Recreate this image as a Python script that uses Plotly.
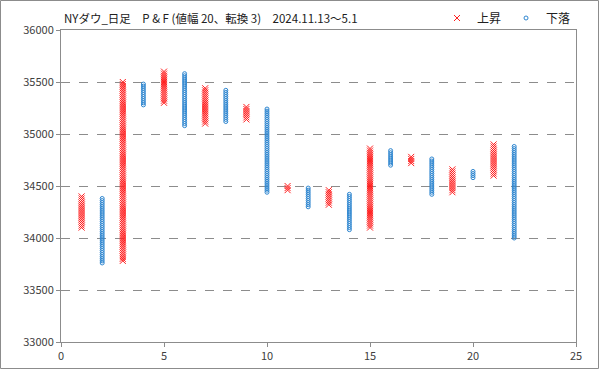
import numpy as np
import plotly.graph_objects as go

# Point & Figure columns: column index, type, low box, high box
col_x = [1, 2, 3, 4, 5, 6, 7, 8, 9, 10, 11, 12, 13, 14, 15, 16, 17, 18, 19, 20, 21, 22]
col_type = ["X", "O", "X", "O", "X", "O", "X", "O", "X", "O", "X",
            "O", "X", "O", "X", "O", "X", "O", "X", "O", "X", "O"]
col_low = [34100, 33760, 33780, 35280, 35300, 35080, 35100, 35120, 35140, 34440, 34460,
           34300, 34320, 34080, 34100, 34700, 34720, 34420, 34440, 34580, 34600, 34000]
col_high = [34400, 34380, 35500, 35480, 35600, 35580, 35440, 35420, 35260, 35240, 34500,
            34480, 34460, 34420, 34860, 34840, 34780, 34760, 34660, 34640, 34900, 34880]
box = 20

title_text = "NYダウ_日足　P & F (値幅 20、転換 3)　2024.11.13～5.1"

ux, uy, dx, dy = [], [], [], []
for c, t, lo, hi in zip(col_x, col_type, col_low, col_high):
    vals = np.arange(lo, hi + box / 2, box)
    if t == "X":
        ux += [c] * len(vals); uy += list(vals)
    else:
        dx += [c] * len(vals); dy += list(vals)

fig = go.Figure()
fig.add_trace(go.Scatter(x=ux, y=uy, mode="markers", name="上昇",
                         marker=dict(symbol="x-thin-open", size=6, color="#FF2020",
                                     line=dict(width=1, color="#FF2020"))))
fig.add_trace(go.Scatter(x=dx, y=dy, mode="markers", name="下落",
                         marker=dict(symbol="circle-open", size=4, color="#2E86D0",
                                     line=dict(width=1, color="#2E86D0"))))

W, H = 599, 369
L, R, T, B = 61, 23, 30, 27
pw, ph = W - L - R, H - T - B

fig.update_layout(
    width=W, height=H,
    margin=dict(l=L, r=R, t=T, b=B, autoexpand=False),
    paper_bgcolor="white", plot_bgcolor="white",
    font=dict(family="Noto Sans CJK JP, Noto Sans, sans-serif", size=11, color="#404040"),
    legend=dict(orientation="h", x=1.0, xanchor="right", y=(H - B - 18) / ph, yanchor="middle",
                font=dict(size=12, color="#202020"), bgcolor="rgba(0,0,0,0)",
                itemwidth=30, tracegroupgap=0),
    showlegend=True,
    annotations=[dict(text=title_text, x=(62 - L) / pw, y=(H - B - 18) / ph,
                      xref="paper", yref="paper", xanchor="left", yanchor="middle",
                      showarrow=False, font=dict(size=11.5, color="#202020"))],
    shapes=[dict(type="rect", xref="paper", yref="paper",
                 x0=(0.5 - L) / pw, x1=(W - 0.5 - L) / pw,
                 y0=-(B - 0.5) / ph, y1=(H - B - 0.5) / ph,
                 line=dict(color="#8c8c8c", width=1))],
)
fig.update_xaxes(range=[0, 25], tick0=0, dtick=5, showgrid=False, zeroline=False,
                 showline=True, linecolor="#8c8c8c", mirror=True, automargin=False,
                 ticks="outside", ticklen=4, tickcolor="#8c8c8c",
                 tickfont=dict(size=11, color="#404040"))
fig.update_yaxes(range=[33000, 36000], tick0=33000, dtick=500, showgrid=True,
                 tickformat="d", automargin=False,
                 gridcolor="#8c8c8c", griddash="dash", gridwidth=1, zeroline=False,
                 showline=True, linecolor="#8c8c8c", mirror=True,
                 ticks="outside", ticklen=4, tickcolor="#8c8c8c",
                 tickfont=dict(size=11, color="#404040"))

fig.write_html("out.html", config={"displayModeBar": False},
               post_script="document.body.style.margin='0';document.body.style.overflow='hidden';")
